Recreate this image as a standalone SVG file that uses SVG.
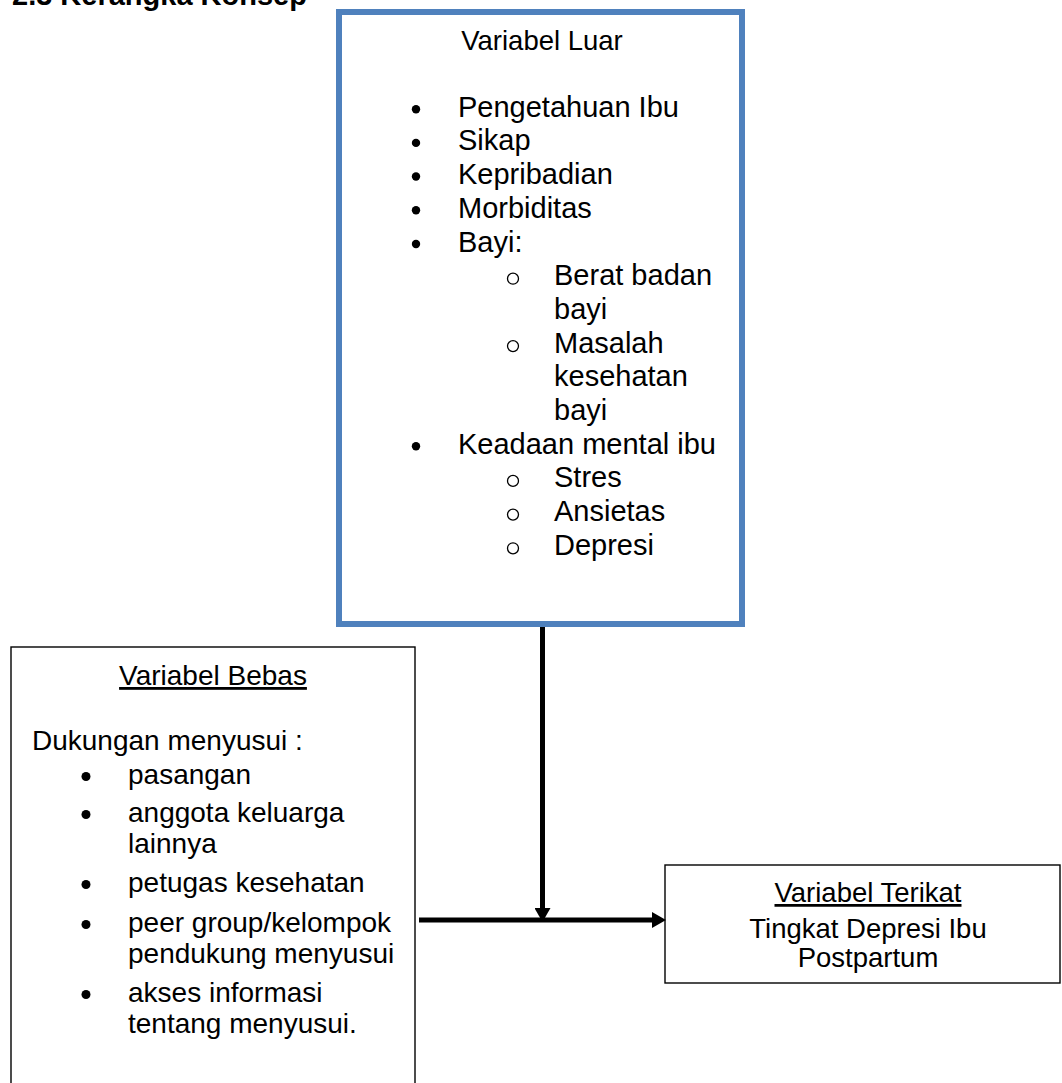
<svg xmlns="http://www.w3.org/2000/svg" width="1062" height="1083" viewBox="0 0 1062 1083">
<defs>
<style>
.t{font-family:"Liberation Sans",Arial,sans-serif;font-size:28px;fill:#000}
.l{font-size:29px}
.h{font-size:27.5px}
.u{text-decoration:underline}
.title{font-family:"Liberation Sans",Arial,sans-serif;font-size:29px;font-weight:bold;fill:#000}
.b{fill:#000}
.o{fill:none;stroke:#000;stroke-width:1.3}
.box{fill:#fff;stroke:#000;stroke-width:1.4}
.conn{stroke:#000;stroke-width:5;fill:none}
</style>
<marker id="ah" markerUnits="userSpaceOnUse" markerWidth="14" markerHeight="16" refX="0" refY="8" orient="auto" viewBox="0 0 14 16">
<path d="M0,0 L14,8 L0,16 Z" fill="#000"/>
</marker>
</defs>
<rect width="1062" height="1083" fill="#fff"/>
<text class="title" x="12" y="5">2.3 Kerangka Konsep</text>

<g id="variabel-luar">
<rect x="339" y="12" width="403" height="612" fill="#fff" stroke="#4F81BD" stroke-width="6"/>
<text class="t h" x="542" y="50" text-anchor="middle">Variabel Luar</text>
<circle class="b" cx="416" cy="109.2" r="4.2"/><text class="t l" x="458" y="116.7">Pengetahuan Ibu</text>
<circle class="b" cx="416" cy="142.9" r="4.2"/><text class="t l" x="458" y="150.4">Sikap</text>
<circle class="b" cx="416" cy="176.5" r="4.2"/><text class="t l" x="458" y="184">Kepribadian</text>
<circle class="b" cx="416" cy="210.3" r="4.2"/><text class="t l" x="458" y="217.8">Morbiditas</text>
<circle class="b" cx="416" cy="244" r="4.2"/><text class="t l" x="458" y="251.5">Bayi:</text>
<circle class="o" cx="513" cy="278.7" r="5.5"/><text class="t l" x="554" y="285.2">Berat badan</text>
<text class="t l" x="554" y="318.9">bayi</text>
<circle class="o" cx="513" cy="346.1" r="5.5"/><text class="t l" x="554" y="352.6">Masalah</text>
<text class="t l" x="554" y="386.3">kesehatan</text>
<text class="t l" x="554" y="420">bayi</text>
<circle class="b" cx="416" cy="446.2" r="4.2"/><text class="t l" x="458" y="453.7">Keadaan mental ibu</text>
<circle class="o" cx="513" cy="480.9" r="5.5"/><text class="t l" x="554" y="487.4">Stres</text>
<circle class="o" cx="513" cy="514.6" r="5.5"/><text class="t l" x="554" y="521.1">Ansietas</text>
<circle class="o" cx="513" cy="548.3" r="5.5"/><text class="t l" x="554" y="554.8">Depresi</text>
</g>

<g id="variabel-bebas">
<rect class="box" x="11" y="647" width="404" height="460"/>
<text class="t u" x="213" y="685" text-anchor="middle">Variabel Bebas</text>
<text class="t" x="32" y="750">Dukungan menyusui :</text>
<circle class="b" cx="86" cy="776.5" r="4.5"/><text class="t" x="128" y="784">pasangan</text>
<circle class="b" cx="86" cy="814.5" r="4.5"/><text class="t" x="128" y="822">anggota keluarga</text>
<text class="t" x="128" y="853">lainnya</text>
<circle class="b" cx="86" cy="884.5" r="4.5"/><text class="t" x="128" y="892">petugas kesehatan</text>
<circle class="b" cx="86" cy="924.5" r="4.5"/><text class="t" x="128" y="932">peer group/kelompok</text>
<text class="t" x="128" y="963">pendukung menyusui</text>
<circle class="b" cx="86" cy="994.5" r="4.5"/><text class="t" x="128" y="1002">akses informasi</text>
<text class="t" x="128" y="1033">tentang menyusui.</text>
</g>

<g id="variabel-terikat">
<rect class="box" x="665" y="865" width="395" height="118"/>
<text class="t h u" x="868" y="902" text-anchor="middle">Variabel Terikat</text>
<text class="t h" x="868" y="938" text-anchor="middle">Tingkat Depresi Ibu</text>
<text class="t h" x="868" y="967" text-anchor="middle">Postpartum</text>
</g>

<g id="connectors">
<line class="conn" x1="542.5" y1="627" x2="542.5" y2="908" marker-end="url(#ah)"/>
<line class="conn" x1="419" y1="920" x2="652" y2="920" marker-end="url(#ah)"/>
</g>
</svg>
